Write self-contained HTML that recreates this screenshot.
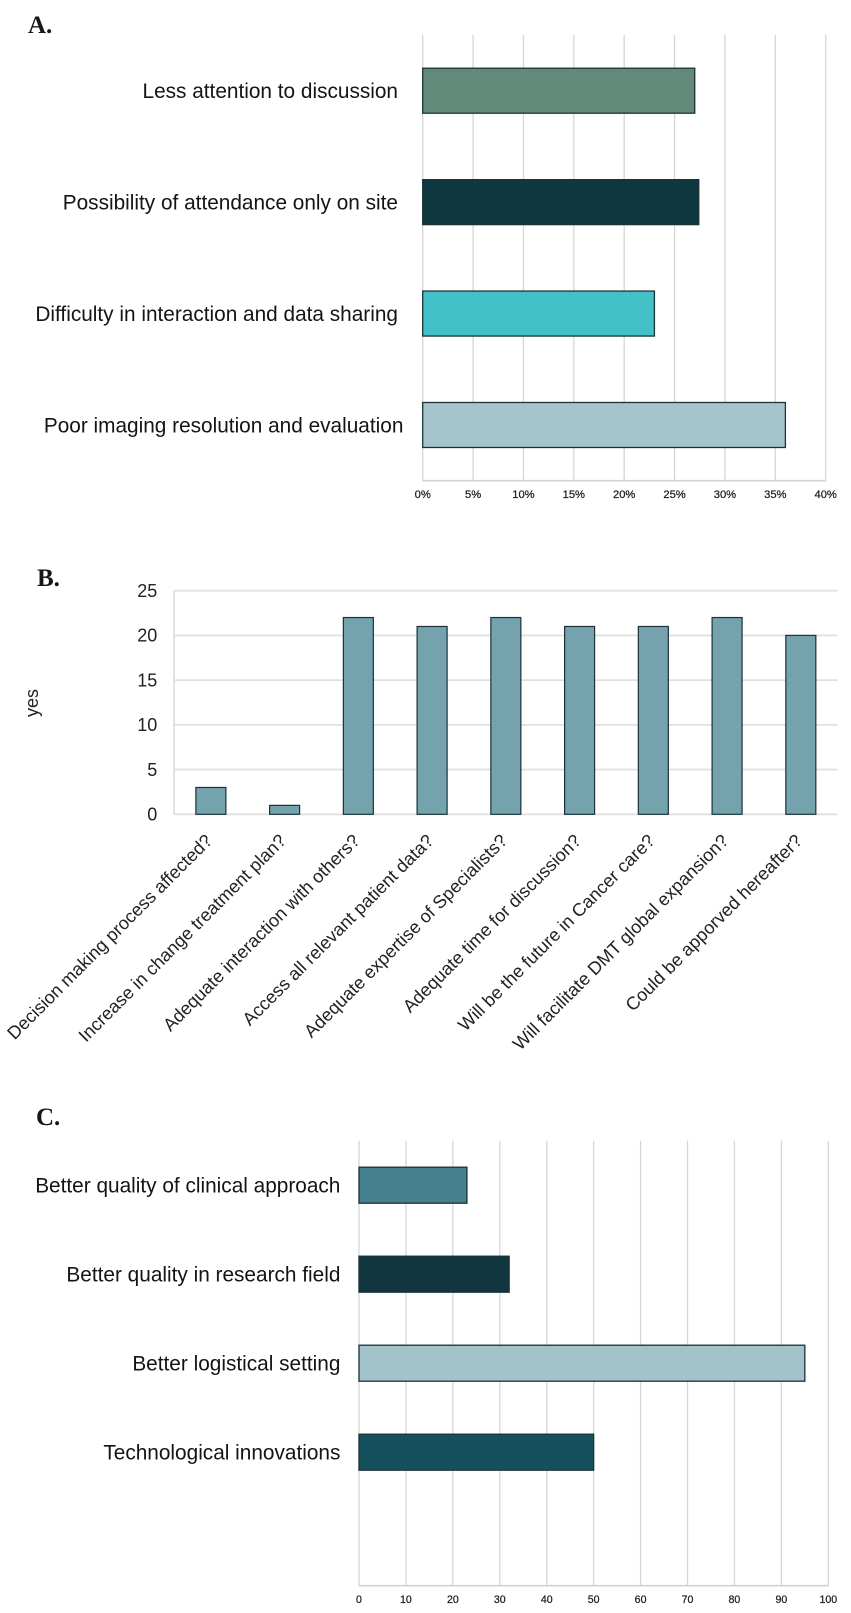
<!DOCTYPE html>
<html lang="en">
<head>
<meta charset="utf-8">
<title>Survey charts A, B and C</title>
<style>
  html, body { margin: 0; padding: 0; background: #fff; }
  svg { display: block; font-family: "Liberation Sans", Arial, sans-serif; filter: blur(0.35px); }
  .panel { font-family: "Liberation Serif", serif; font-weight: bold; font-size: 25px; fill: #161616; }
  .cat { font-size: 20.8px; fill: #141414; }
  .tick { fill: #222; stroke: #222; stroke-width: 0.25px; }
  .ytick { font-size: 18px; fill: #222; }
  .rot { font-size: 18.15px; fill: #222; }
</style>
</head>
<body>
<svg id="figure" width="851" height="1613" viewBox="0 0 851 1613" xmlns="http://www.w3.org/2000/svg">
  <rect x="0" y="0" width="851" height="1613" fill="#ffffff"/>
  <text class="panel" x="28" y="33">A.</text>
  <text class="panel" x="37" y="586">B.</text>
  <text class="panel" x="36" y="1125">C.</text>
  <g id="chart-a"></g>
  <g id="chart-b"></g>
  <g id="chart-c"></g>
  <text class="ytick" transform="translate(38,703) rotate(-90)" text-anchor="middle">yes</text>
</svg>
<script>
const categoriesA = ["Less attention to discussion", "Possibility of attendance only on site", "Difficulty in interaction and data sharing", "Poor imaging resolution and evaluation"];
const valuesA = [27, 27.4, 23, 36];
const ticksA = [0, 5, 10, 15, 20, 25, 30, 35, 40];

const categoriesB = ["Decision making process affected?", "Increase in change treatment plan?", "Adequate interaction with others?", "Access all relevant patient data?", "Adequate expertise of Specialists?", "Adequate time for discussion?", "Will be the future in Cancer care?", "Will facilitate DMT global expansion?", "Could be apporved hereafter?"];
const valuesB = [3, 1, 22, 21, 22, 21, 21, 22, 20];
const ticksB = [0, 5, 10, 15, 20, 25];

const categoriesC = ["Better quality of clinical approach", "Better quality in research field", "Better logistical setting", "Technological innovations", ""];
const valuesC = [23, 32, 95, 50, null];
const ticksC = [0, 10, 20, 30, 40, 50, 60, 70, 80, 90, 100];

const NS = "http://www.w3.org/2000/svg";

function make(parent, tag, attrs, text) {
  const el = document.createElementNS(NS, tag);
  for (const k in attrs) el.setAttribute(k, attrs[k]);
  if (text !== undefined) el.textContent = text;
  parent.appendChild(el);
  return el;
}

function horizontalChart(rootId, cfg, categories, values, ticks, colors, suffix) {
  const root = document.getElementById(rootId);
  const xScale = v => cfg.x0 + (v - ticks[0]) / (ticks[ticks.length - 1] - ticks[0]) * (cfg.x1 - cfg.x0);
  const band = (cfg.y1 - cfg.y0) / categories.length;
  const yScale = i => cfg.y0 + band * (i + 0.5);

  ticks.forEach(t => {
    const line = make(root, "line", { x1: xScale(t), x2: xScale(t), y1: cfg.y0, y2: cfg.y1, stroke: "#d6d6d6", "stroke-width": 1.3 });
    
    
    const label = make(root, "text", { class: "tick", x: xScale(t), y: cfg.y1 + 17.5, "text-anchor": "middle", "font-size": cfg.tickSize }, t + suffix);
    
    
  });
  const axis = make(root, "line", { x1: cfg.x0, x2: cfg.x1, y1: cfg.y1, y2: cfg.y1, stroke: "#d2d2d2", "stroke-width": 1.6 });
  
  

  categories.forEach((c, i) => {
    if (values[i] === null) return;
    const bar = make(root, "rect", {
      x: cfg.x0, y: yScale(i) - cfg.barH / 2,
      width: xScale(values[i]) - cfg.x0, height: cfg.barH,
      fill: colors[i], stroke: "#1b3238", "stroke-width": 1.3
    });
    
    
    const labelX = (cfg.labelOffset && cfg.labelOffset[i]) || cfg.labelX;
    const label = make(root, "text", { class: "cat", x: labelX, y: yScale(i) + 7.3, "text-anchor": "end" }, c);
    
    
  });
}

function verticalChart(rootId, cfg, categories, values, ticks) {
  const root = document.getElementById(rootId);
  const yScale = v => cfg.y1 - (v - ticks[0]) / (ticks[ticks.length - 1] - ticks[0]) * (cfg.y1 - cfg.y0);
  const band = (cfg.x1 - cfg.x0) / categories.length;
  const xScale = i => cfg.x0 + band * (i + 0.5);

  const yAxis = make(root, "line", { x1: cfg.x0, x2: cfg.x0, y1: cfg.y0, y2: cfg.y1, stroke: "#d2d2d2", "stroke-width": 1.3 });
  
  

  ticks.forEach(t => {
    const line = make(root, "line", { x1: cfg.x0, x2: cfg.x1, y1: yScale(t), y2: yScale(t), stroke: "#e0e0e0", "stroke-width": 1.8 });
    
    
    const label = make(root, "text", { class: "ytick", x: cfg.x0 - 16.7, y: yScale(t) + 6.3, "text-anchor": "end" }, t);
    
    
  });

  categories.forEach((c, i) => {
    const bar = make(root, "rect", {
      x: xScale(i) - cfg.barW / 2, y: yScale(values[i]),
      width: cfg.barW, height: yScale(0) - yScale(values[i]),
      fill: "#74a3ae", stroke: "#1b3238", "stroke-width": 1.2
    });
    
    
    const lx = xScale(i) + 2.5;
    const ly = cfg.y1 + 27.5;
    const label = make(root, "text", { class: "rot", "text-anchor": "end", transform: "translate(" + lx + "," + ly + ") rotate(-45)" }, c);
    
    
  });
}

horizontalChart("chart-a",
  { x0: 422.7, x1: 825.7, y0: 35, y1: 480.7, barH: 45, labelX: 398, labelOffset: [0, 0, 0, 403.4], tickSize: 11.2 },
  categoriesA, valuesA, ticksA, ["#62897a", "#0f3740", "#44c0c8", "#a5c4cb"], "%");

verticalChart("chart-b",
  { x0: 174, x1: 837.7, y0: 590.7, y1: 814.3, barW: 30 },
  categoriesB, valuesB, ticksB);

horizontalChart("chart-c",
  { x0: 359, x1: 828.3, y0: 1140.7, y1: 1585.7, barH: 36, labelX: 340.4, tickSize: 10.6 },
  categoriesC, valuesC, ticksC, ["#46808f", "#123640", "#a3c3ca", "#15505c", "#ffffff"], "");
</script>
</body>
</html>
